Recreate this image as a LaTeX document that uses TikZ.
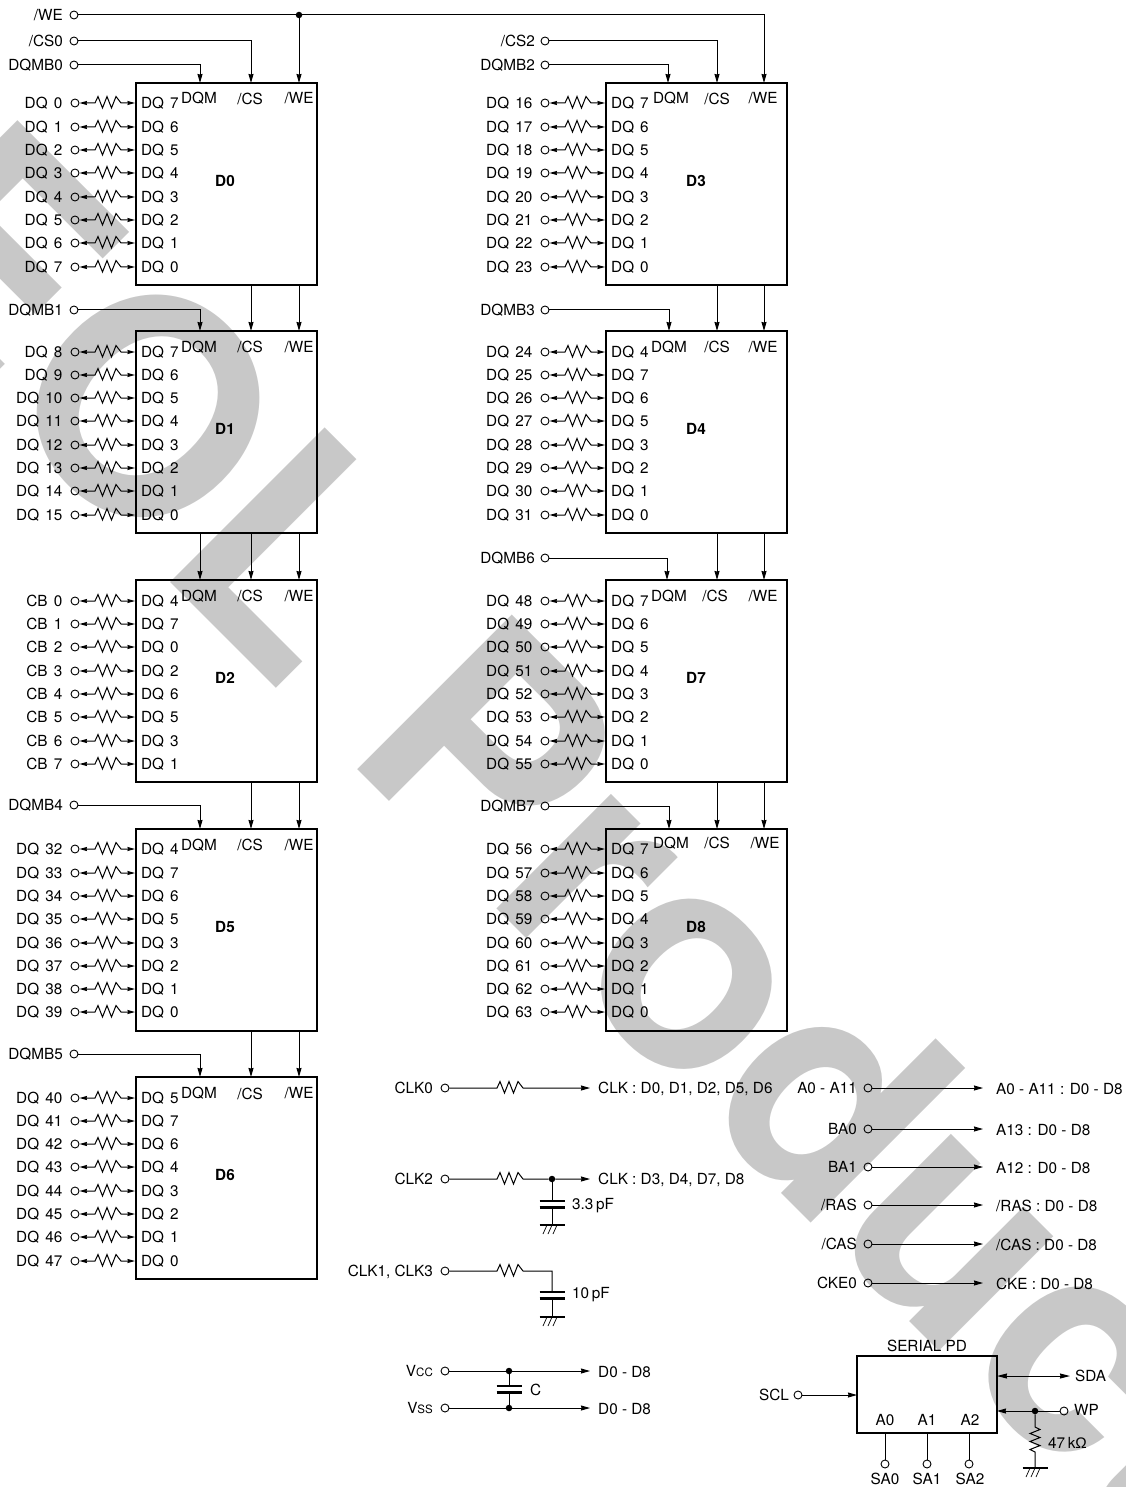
\documentclass[tikz,border=0pt]{standalone}
\usepackage{fontspec}
\setmainfont{TeX Gyre Heros}
\newfontfamily\ohmfont{Liberation Sans}
\usetikzlibrary{arrows.meta}

\newcommand{\sigfont}{\fontsize{15.3}{17}\selectfont}
\newcommand{\rowfont}{\sigfont\spaceskip=6.1pt\relax}
\tikzset{
  wire/.style={line width=1pt,line join=miter},
  sigarrow/.style={wire,-{Stealth[length=9pt,width=5pt,inset=0.5pt]}},
  bothway/.style={wire,{Stealth[length=10pt,width=5pt,inset=0.5pt]}-{Stealth[length=10pt,width=5pt,inset=0.5pt]}},
  rowarrow/.style={wire,{Stealth[length=7.5pt,width=4pt,inset=0.5pt]}-{Stealth[length=7.5pt,width=4pt,inset=0.5pt]}},
  plate/.style={line width=2.2pt},
  sig/.style={font=\sigfont,inner sep=0pt,text height=11pt,text depth=0pt},
  sigl/.style={sig,anchor=east},
  sigr/.style={sig,anchor=west},
  term/.style={circle,draw,line width=0.9pt,minimum size=8pt,inner sep=0pt},
  dot/.style={circle,fill=black,minimum size=6.5pt,inner sep=0pt},
  chip/.style={draw,line width=2.8pt,minimum width=181pt,minimum height=202pt,inner sep=0pt,outer sep=0pt},
  wmark/.style={font=\fontsize{300}{300}\selectfont\bfseries,text=wmgray,inner sep=0pt,anchor=base west,rotate=-45}
}
\definecolor{wmgray}{HTML}{C8C8C8}

% resistor drawn along a horizontal wire
\newcommand{\zig}{-- ++(3,-6.5) -- ++(4.5,11.5) -- ++(4.5,-11.5) -- ++(4.5,11.5) -- ++(4.5,-11.5)}
% label, terminal, resistor and arrow of one data line
\newcommand{\dqrow}[5]{
  \node[sigl,font=\rowfont] (#1l) at (#2+62.5,#3) {#4};
  \node[term] (#1t) at (#2+75,#3) {};
  \node[sigr,font=\rowfont] (#1p) at (#2+141,#3) {#5};
  \coordinate (#1a) at (#2+95,#3);
  \coordinate (#1b) at (#2+121,#3);
  \coordinate (#1e) at (#2+135,#3);
  \draw[rowarrow] (#1t) -- (#1a) \zig -- (#1b) -- (#1e);
}
% ground symbol under a stem
\newcommand{\gnd}[2]{
  \draw[plate] (#1-12.5,#2) -- (#1+12.5,#2);
  \draw[line width=0.7pt] (#1-5,#2) -- (#1-9,#2+9);
  \draw[line width=0.7pt] (#1,#2) -- (#1-4,#2+9);
  \draw[line width=0.7pt] (#1+5,#2) -- (#1+1,#2+9);
}
% two plates of a capacitor
\newcommand{\capa}[2]{
  \draw[plate] (#1-12.5,#2) -- (#1+12.5,#2);
  \draw[plate] (#1-12.5,#2+6.5) -- (#1+12.5,#2+6.5);
}

\begin{document}
\begin{tikzpicture}[x=1pt,y=-1pt]
  \useasboundingbox (0,0) rectangle (1125,1487);
  \node[wmark] (wm) at (-153.5,258.5) {EOL Product};

  \node[chip] (d0) at (226.5,184) {};
  \node[chip] (d1) at (226.5,432) {};
  \node[chip] (d2) at (226.5,681) {};
  \node[chip] (d5) at (226.5,930) {};
  \node[chip] (d6) at (226.5,1178) {};
  \node[chip] (d3) at (696.5,184) {};
  \node[chip] (d4) at (696.5,432) {};
  \node[chip] (d7) at (696.5,681) {};
  \node[chip] (d8) at (696.5,930) {};

  \node[sig,font=\sigfont\bfseries] (d0n) at (225,181) {D0};
  \node[sig,font=\sigfont\bfseries] (d1n) at (225,429) {D1};
  \node[sig,font=\sigfont\bfseries] (d2n) at (225,678) {D2};
  \node[sig,font=\sigfont\bfseries] (d5n) at (225,927) {D5};
  \node[sig,font=\sigfont\bfseries] (d6n) at (225,1175) {D6};
  \node[sig,font=\sigfont\bfseries] (d3n) at (696,181) {D3};
  \node[sig,font=\sigfont\bfseries] (d4n) at (696,429) {D4};
  \node[sig,font=\sigfont\bfseries] (d7n) at (696,678) {D7};
  \node[sig,font=\sigfont\bfseries] (d8n) at (696,927) {D8};

  \node[sig] (d0q) at (199,98) {DQM};
  \node[sig] (d0c) at (250,99) {/CS};
  \node[sig] (d0w) at (299,98) {/WE};
  \node[sig] (d1q) at (199,347) {DQM};
  \node[sig] (d1c) at (250,347) {/CS};
  \node[sig] (d1w) at (299,347) {/WE};
  \node[sig] (d2q) at (199,596) {DQM};
  \node[sig] (d2c) at (250,596) {/CS};
  \node[sig] (d2w) at (299,596) {/WE};
  \node[sig] (d5q) at (199,845) {DQM};
  \node[sig] (d5c) at (250,845) {/CS};
  \node[sig] (d5w) at (299,845) {/WE};
  \node[sig] (d6q) at (199,1093) {DQM};
  \node[sig] (d6c) at (250,1094) {/CS};
  \node[sig] (d6w) at (299,1093) {/WE};
  \node[sig] (d3q) at (671,98) {DQM};
  \node[sig] (d3c) at (717,99) {/CS};
  \node[sig] (d3w) at (763,98) {/WE};
  \node[sig] (d4q) at (669,347) {DQM};
  \node[sig] (d4c) at (717,347) {/CS};
  \node[sig] (d4w) at (763,347) {/WE};
  \node[sig] (d7q) at (669,596) {DQM};
  \node[sig] (d7c) at (715,596) {/CS};
  \node[sig] (d7w) at (763,596) {/WE};
  \node[sig] (d8q) at (671,843) {DQM};
  \node[sig] (d8c) at (717,843) {/CS};
  \node[sig] (d8w) at (765,843) {/WE};

  \dqrow{dq0}{0}{103}{DQ 0}{DQ 7}
  \dqrow{dq1}{0}{127}{DQ 1}{DQ 6}
  \dqrow{dq2}{0}{150}{DQ 2}{DQ 5}
  \dqrow{dq3}{0}{173}{DQ 3}{DQ 4}
  \dqrow{dq4}{0}{197}{DQ 4}{DQ 3}
  \dqrow{dq5}{0}{220}{DQ 5}{DQ 2}
  \dqrow{dq6}{0}{243}{DQ 6}{DQ 1}
  \dqrow{dq7}{0}{267}{DQ 7}{DQ 0}

  \dqrow{dq8}{0}{352}{DQ 8}{DQ 7}
  \dqrow{dq9}{0}{375}{DQ 9}{DQ 6}
  \dqrow{dq10}{0}{398}{DQ 10}{DQ 5}
  \dqrow{dq11}{0}{421}{DQ 11}{DQ 4}
  \dqrow{dq12}{0}{445}{DQ 12}{DQ 3}
  \dqrow{dq13}{0}{468}{DQ 13}{DQ 2}
  \dqrow{dq14}{0}{491}{DQ 14}{DQ 1}
  \dqrow{dq15}{0}{515}{DQ 15}{DQ 0}

  \dqrow{cb0}{0}{601}{CB 0}{DQ 4}
  \dqrow{cb1}{0}{624}{CB 1}{DQ 7}
  \dqrow{cb2}{0}{647}{CB 2}{DQ 0}
  \dqrow{cb3}{0}{671}{CB 3}{DQ 2}
  \dqrow{cb4}{0}{694}{CB 4}{DQ 6}
  \dqrow{cb5}{0}{717}{CB 5}{DQ 5}
  \dqrow{cb6}{0}{741}{CB 6}{DQ 3}
  \dqrow{cb7}{0}{764}{CB 7}{DQ 1}

  \dqrow{dq32}{0}{849}{DQ 32}{DQ 4}
  \dqrow{dq33}{0}{873}{DQ 33}{DQ 7}
  \dqrow{dq34}{0}{896}{DQ 34}{DQ 6}
  \dqrow{dq35}{0}{919}{DQ 35}{DQ 5}
  \dqrow{dq36}{0}{943}{DQ 36}{DQ 3}
  \dqrow{dq37}{0}{966}{DQ 37}{DQ 2}
  \dqrow{dq38}{0}{989}{DQ 38}{DQ 1}
  \dqrow{dq39}{0}{1012}{DQ 39}{DQ 0}

  \dqrow{dq40}{0}{1098}{DQ 40}{DQ 5}
  \dqrow{dq41}{0}{1121}{DQ 41}{DQ 7}
  \dqrow{dq42}{0}{1144}{DQ 42}{DQ 6}
  \dqrow{dq43}{0}{1167}{DQ 43}{DQ 4}
  \dqrow{dq44}{0}{1191}{DQ 44}{DQ 3}
  \dqrow{dq45}{0}{1214}{DQ 45}{DQ 2}
  \dqrow{dq46}{0}{1237}{DQ 46}{DQ 1}
  \dqrow{dq47}{0}{1261}{DQ 47}{DQ 0}

  \dqrow{dq16}{470}{103}{DQ 16}{DQ 7}
  \dqrow{dq17}{470}{127}{DQ 17}{DQ 6}
  \dqrow{dq18}{470}{150}{DQ 18}{DQ 5}
  \dqrow{dq19}{470}{173}{DQ 19}{DQ 4}
  \dqrow{dq20}{470}{197}{DQ 20}{DQ 3}
  \dqrow{dq21}{470}{220}{DQ 21}{DQ 2}
  \dqrow{dq22}{470}{243}{DQ 22}{DQ 1}
  \dqrow{dq23}{470}{267}{DQ 23}{DQ 0}

  \dqrow{dq24}{470}{352}{DQ 24}{DQ 4}
  \dqrow{dq25}{470}{375}{DQ 25}{DQ 7}
  \dqrow{dq26}{470}{398}{DQ 26}{DQ 6}
  \dqrow{dq27}{470}{421}{DQ 27}{DQ 5}
  \dqrow{dq28}{470}{445}{DQ 28}{DQ 3}
  \dqrow{dq29}{470}{468}{DQ 29}{DQ 2}
  \dqrow{dq30}{470}{491}{DQ 30}{DQ 1}
  \dqrow{dq31}{470}{515}{DQ 31}{DQ 0}

  \dqrow{dq48}{470}{601}{DQ 48}{DQ 7}
  \dqrow{dq49}{470}{624}{DQ 49}{DQ 6}
  \dqrow{dq50}{470}{647}{DQ 50}{DQ 5}
  \dqrow{dq51}{470}{671}{DQ 51}{DQ 4}
  \dqrow{dq52}{470}{694}{DQ 52}{DQ 3}
  \dqrow{dq53}{470}{717}{DQ 53}{DQ 2}
  \dqrow{dq54}{470}{741}{DQ 54}{DQ 1}
  \dqrow{dq55}{470}{764}{DQ 55}{DQ 0}

  \dqrow{dq56}{470}{849}{DQ 56}{DQ 7}
  \dqrow{dq57}{470}{873}{DQ 57}{DQ 6}
  \dqrow{dq58}{470}{896}{DQ 58}{DQ 5}
  \dqrow{dq59}{470}{919}{DQ 59}{DQ 4}
  \dqrow{dq60}{470}{943}{DQ 60}{DQ 3}
  \dqrow{dq61}{470}{966}{DQ 61}{DQ 2}
  \dqrow{dq62}{470}{989}{DQ 62}{DQ 1}
  \dqrow{dq63}{470}{1012}{DQ 63}{DQ 0}

  % control inputs
  \node[sigl] (wel) at (63,15) {/WE};
  \node[term] (wet) at (74,15) {};
  \node[sigl] (cs0l) at (63,41) {/CS0};
  \node[term] (cs0t) at (74,41) {};
  \node[sigl] (mb0l) at (63,65) {DQMB0};
  \node[term] (mb0t) at (74,65) {};
  \node[sigl] (mb1l) at (63,310) {DQMB1};
  \node[term] (mb1t) at (74,310) {};
  \node[sigl] (mb4l) at (63,805) {DQMB4};
  \node[term] (mb4t) at (74,805) {};
  \node[sigl] (mb5l) at (63,1054) {DQMB5};
  \node[term] (mb5t) at (74,1054) {};
  \node[sigl] (cs2l) at (535,41) {/CS2};
  \node[term] (cs2t) at (545,41) {};
  \node[sigl] (mb2l) at (535,65) {DQMB2};
  \node[term] (mb2t) at (545,65) {};
  \node[sigl] (mb3l) at (535,310) {DQMB3};
  \node[term] (mb3t) at (545,310) {};
  \node[sigl] (mb6l) at (535,558) {DQMB6};
  \node[term] (mb6t) at (545,558) {};
  \node[sigl] (mb7l) at (535,806) {DQMB7};
  \node[term] (mb7t) at (545,806) {};
  \node[dot] (wed) at (299,15) {};

  \coordinate (x0q) at (200,0);
  \coordinate (x0c) at (251,0);
  \coordinate (x0w) at (299,0);
  \coordinate (x3q) at (668,0);
  \coordinate (x3c) at (717,0);
  \coordinate (x3w) at (764,0);
  \coordinate (x7q) at (667,0);
  \coordinate (x8q) at (669,0);

  \draw[sigarrow] (wet) -- (wed) -- (wed -| x3w) -- (d3.north -| x3w);
  \draw[sigarrow] (wed) -- (d0.north -| x0w);
  \draw[sigarrow] (cs0t) -- (cs0t -| x0c) -- (d0.north -| x0c);
  \draw[sigarrow] (mb0t) -- (mb0t -| x0q) -- (d0.north -| x0q);
  \draw[sigarrow] (mb1t) -- (mb1t -| x0q) -- (d1.north -| x0q);
  \draw[sigarrow] (mb4t) -- (mb4t -| x0q) -- (d5.north -| x0q);
  \draw[sigarrow] (mb5t) -- (mb5t -| x0q) -- (d6.north -| x0q);
  \draw[sigarrow] (cs2t) -- (cs2t -| x3c) -- (d3.north -| x3c);
  \draw[sigarrow] (mb2t) -- (mb2t -| x3q) -- (d3.north -| x3q);
  \draw[sigarrow] (mb3t) -- (mb3t -| x8q) -- (d4.north -| x8q);
  \draw[sigarrow] (mb6t) -- (mb6t -| x7q) -- (d7.north -| x7q);
  \draw[sigarrow] (mb7t) -- (mb7t -| x8q) -- (d8.north -| x8q);

  \draw[sigarrow] (d0.south -| x0c) -- (d1.north -| x0c);
  \draw[sigarrow] (d0.south -| x0w) -- (d1.north -| x0w);
  \draw[sigarrow] (d1.south -| x0q) -- (d2.north -| x0q);
  \draw[sigarrow] (d1.south -| x0c) -- (d2.north -| x0c);
  \draw[sigarrow] (d1.south -| x0w) -- (d2.north -| x0w);
  \draw[sigarrow] (d2.south -| x0c) -- (d5.north -| x0c);
  \draw[sigarrow] (d2.south -| x0w) -- (d5.north -| x0w);
  \draw[sigarrow] (d5.south -| x0c) -- (d6.north -| x0c);
  \draw[sigarrow] (d5.south -| x0w) -- (d6.north -| x0w);
  \draw[sigarrow] (d3.south -| x3c) -- (d4.north -| x3c);
  \draw[sigarrow] (d3.south -| x3w) -- (d4.north -| x3w);
  \draw[sigarrow] (d4.south -| x3c) -- (d7.north -| x3c);
  \draw[sigarrow] (d4.south -| x3w) -- (d7.north -| x3w);
  \draw[sigarrow] (d7.south -| x3c) -- (d8.north -| x3c);
  \draw[sigarrow] (d7.south -| x3w) -- (d8.north -| x3w);

  % clock lines
  \node[sigl] (clk0l) at (433,1088) {CLK0};
  \node[term] (clk0t) at (445,1088) {};
  \coordinate (clk0a) at (497,1088);
  \coordinate (clk0b) at (523,1088);
  \coordinate (clk0e) at (590,1088);
  \node[sigr] (clk0r) at (598,1088) {CLK : D0, D1, D2, D5, D6};
  \draw[sigarrow] (clk0t) -- (clk0a) \zig -- (clk0b) -- (clk0e);

  \node[sigl] (clk2l) at (433,1179) {CLK2};
  \node[term] (clk2t) at (445,1179) {};
  \coordinate (clk2a) at (497,1179);
  \coordinate (clk2b) at (523,1179);
  \node[dot] (clk2d) at (552,1179) {};
  \coordinate (clk2e) at (590,1179);
  \node[sigr] (clk2r) at (598,1179) {CLK : D3, D4, D7, D8};
  \draw[sigarrow] (clk2t) -- (clk2a) \zig -- (clk2b) -- (clk2d) -- (clk2e);
  \coordinate (c2top) at (552,1201);
  \coordinate (c2bot) at (552,1207.5);
  \coordinate (c2gnd) at (552,1225);
  \draw[wire] (clk2d) -- (c2top);
  \draw[wire] (c2bot) -- (c2gnd);
  \capa{552}{1201}
  \gnd{552}{1225}
  \node[sigr] (c2v) at (572,1204) {3.3\,pF};

  \node[sigl] (clk1l) at (433,1271) {CLK1, CLK3};
  \node[term] (clk1t) at (445,1271) {};
  \coordinate (clk1a) at (497,1271);
  \coordinate (clk1b) at (523,1271);
  \coordinate (c1top) at (552,1292);
  \coordinate (c1bot) at (552,1298.5);
  \coordinate (c1gnd) at (552,1317);
  \draw[wire] (clk1t) -- (clk1a) \zig -- (clk1b) -- (552,1271) -- (c1top);
  \draw[wire] (c1bot) -- (c1gnd);
  \capa{552}{1292}
  \gnd{552}{1317}
  \node[sigr] (c1v) at (572,1293) {10\,pF};

  % power
  \node[sigl] (vccl) at (433,1371) {V{\fontsize{11.5}{13}\selectfont CC}};
  \node[term] (vcct) at (445,1371) {};
  \node[dot] (vccd) at (509,1371) {};
  \coordinate (vcce) at (590,1371);
  \node[sigr] (vccr) at (598,1372) {D0 - D8};
  \node[sigl] (vssl) at (433,1408) {V{\fontsize{11.5}{13}\selectfont SS}};
  \node[term] (vsst) at (445,1408) {};
  \node[dot] (vssd) at (509,1408) {};
  \coordinate (vsse) at (590,1408);
  \node[sigr] (vssr) at (598,1409) {D0 - D8};
  \coordinate (ctop) at (509,1386);
  \coordinate (cbot) at (509,1392.5);
  \draw[sigarrow] (vcct) -- (vccd) -- (vcce);
  \draw[sigarrow] (vsst) -- (vssd) -- (vsse);
  \draw[wire] (vccd) -- (ctop);
  \draw[wire] (cbot) -- (vssd);
  \capa{509}{1386}
  \node[sigr] (cv) at (530,1390) {C};

  % address and command lines
  \node[sigl] (al) at (857,1088) {A0 - A11};
  \node[term] (at) at (868,1088) {};
  \coordinate (ae) at (983,1088);
  \node[sigr] (ar) at (996,1089) {A0 - A11 : D0 - D8};
  \draw[sigarrow] (at) -- (ae);
  \node[sigl] (ba0l) at (857,1129) {BA0};
  \node[term] (ba0t) at (868,1129) {};
  \coordinate (ba0e) at (983,1129);
  \node[sigr] (ba0r) at (996,1130) {A13 : D0 - D8};
  \draw[sigarrow] (ba0t) -- (ba0e);
  \node[sigl] (ba1l) at (857,1167) {BA1};
  \node[term] (ba1t) at (868,1167) {};
  \coordinate (ba1e) at (983,1167);
  \node[sigr] (ba1r) at (996,1168) {A12 : D0 - D8};
  \draw[sigarrow] (ba1t) -- (ba1e);
  \node[sigl] (rasl) at (857,1205) {/RAS};
  \node[term] (rast) at (868,1205) {};
  \coordinate (rase) at (983,1205);
  \node[sigr] (rasr) at (996,1206) {/RAS : D0 - D8};
  \draw[sigarrow] (rast) -- (rase);
  \node[sigl] (casl) at (857,1244) {/CAS};
  \node[term] (cast) at (868,1244) {};
  \coordinate (case) at (983,1244);
  \node[sigr] (casr) at (996,1245) {/CAS : D0 - D8};
  \draw[sigarrow] (cast) -- (case);
  \node[sigl] (ckel) at (857,1283) {CKE0};
  \node[term] (cket) at (868,1283) {};
  \coordinate (ckee) at (983,1283);
  \node[sigr] (cker) at (996,1284) {CKE : D0 - D8};
  \draw[sigarrow] (cket) -- (ckee);

  % serial presence detect
  \node[chip,minimum width=140pt,minimum height=77pt] (pd) at (927,1394.5) {};
  \node[sig] (pdn) at (927,1346) {SERIAL PD};
  \node[sigl] (scll) at (789,1395) {SCL};
  \node[term] (sclt) at (798,1395) {};
  \draw[sigarrow] (sclt) -- (sclt -| pd.west);
  \node[sig] (pa0) at (885,1420) {A0};
  \node[sig] (pa1) at (927,1420) {A1};
  \node[sig] (pa2) at (970,1420) {A2};
  \node[term] (sa0t) at (885,1464) {};
  \node[term] (sa1t) at (927,1464) {};
  \node[term] (sa2t) at (969,1464) {};
  \node[sig] (sa0) at (885,1479) {SA0};
  \node[sig] (sa1) at (927,1479) {SA1};
  \node[sig] (sa2) at (970,1479) {SA2};
  \draw[wire] (sa0t) -- (sa0t |- pd.south);
  \draw[wire] (sa1t) -- (sa1t |- pd.south);
  \draw[wire] (sa2t) -- (sa2t |- pd.south);
  \coordinate (sdae) at (1070,1376);
  \node[sigr] (sda) at (1075,1376) {SDA};
  \draw[bothway] (sdae -| pd.east) -- (sdae);
  \node[term] (wpt) at (1064,1411) {};
  \node[sigr] (wp) at (1074,1410) {WP};
  \node[dot] (wpd) at (1035,1411) {};
  \draw[sigarrow] (wpt) -- (wpd) -- (wpd -| pd.east);
  \coordinate (rtop) at (1035,1427);
  \coordinate (rbot) at (1035,1452);
  \coordinate (rgnd) at (1035,1468);
  \draw[wire] (wpd) -- (rtop) -- ++(5,2.5) -- ++(-10,4) -- ++(10,4) -- ++(-10,4) -- ++(10,4) -- ++(-10,4) -- (rbot) -- (rgnd);
  \gnd{1035}{1468}
  \node[sigr] (rv) at (1048,1443) {47\,k{\ohmfont Ω}};
\end{tikzpicture}
\end{document}
